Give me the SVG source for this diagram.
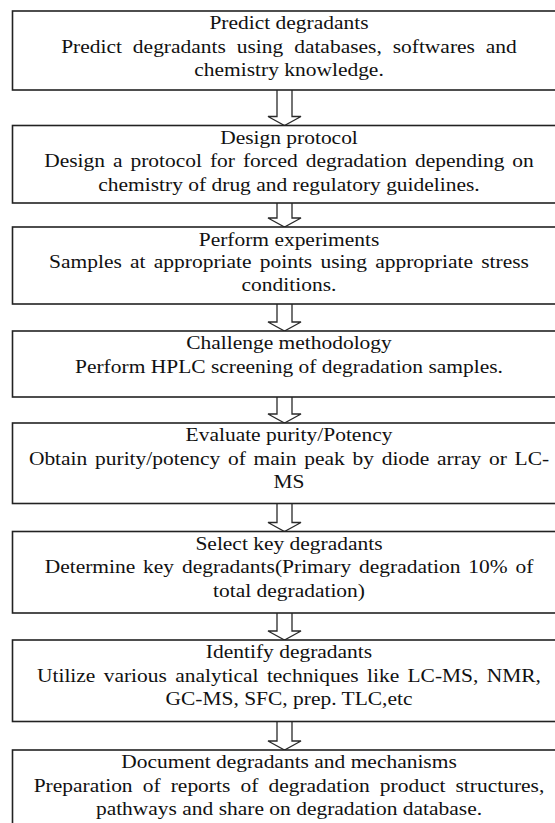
<svg xmlns="http://www.w3.org/2000/svg" width="555" height="823" viewBox="0 0 555 823">
<style>
.box{fill:#fff;stroke:#222;stroke-width:1.6}
.arr{fill:#fff;stroke:#2a2a2a;stroke-width:1.3;stroke-linejoin:miter}
text{font-family:"Liberation Serif","Times New Roman",serif;font-size:19px;fill:#111;text-anchor:middle}
</style>
<rect width="555" height="823" fill="#fff"/>
<g id="connectors">
<path class="arr" d="M277,90 V116.5 H268 L284.5,125.5 L301,116.5 H292 V90"/>
<path class="arr" d="M277,203 V218 H268 L284.5,227 L301,218 H292 V203"/>
<path class="arr" d="M277,304 V322 H268 L284.5,331 L301,322 H292 V304"/>
<path class="arr" d="M277,397 V414 H268 L284.5,423 L301,414 H292 V397"/>
<path class="arr" d="M277,503.5 V522.5 H268 L284.5,531.5 L301,522.5 H292 V503.5"/>
<path class="arr" d="M277,613 V631 H268 L284.5,640 L301,631 H292 V613"/>
<path class="arr" d="M277,721.5 V741 H268 L284.5,750 L301,741 H292 V721.5"/>
</g>
<g id="n1">
<rect class="box" x="12.5" y="11" width="556" height="79"/>
<g transform="scale(1.13 1)">
<text x="255.75" y="29.5">Predict degradants</text>
<text x="255.75" y="53" word-spacing="4.9">Predict degradants using databases, softwares and</text>
<text x="255.75" y="76.5">chemistry knowledge.</text>
</g>
</g>
<g id="n2">
<rect class="box" x="12.5" y="125.5" width="556" height="77.5"/>
<g transform="scale(1.13 1)">
<text x="255.75" y="144">Design protocol</text>
<text x="255.75" y="167.5" word-spacing="2.3">Design a protocol for forced degradation depending on</text>
<text x="255.75" y="191">chemistry of drug and regulatory guidelines.</text>
</g>
</g>
<g id="n3">
<rect class="box" x="12.5" y="227" width="556" height="77"/>
<g transform="scale(1.13 1)">
<text x="255.75" y="246">Perform experiments</text>
<text x="255.75" y="268.5" word-spacing="2.55">Samples at appropriate points using appropriate stress</text>
<text x="255.75" y="291">conditions.</text>
</g>
</g>
<g id="n4">
<rect class="box" x="12.5" y="331" width="556" height="66"/>
<g transform="scale(1.13 1)">
<text x="255.75" y="349">Challenge methodology</text>
<text x="255.75" y="373">Perform HPLC screening of degradation samples.</text>
</g>
</g>
<g id="n5">
<rect class="box" x="12.5" y="423" width="556" height="80.5"/>
<g transform="scale(1.13 1)">
<text x="255.75" y="441.5">Evaluate purity/Potency</text>
<text x="255.75" y="465" word-spacing="2.1">Obtain purity/potency of main peak by diode array or LC-</text>
<text x="255.75" y="488.5">MS</text>
</g>
</g>
<g id="n6">
<rect class="box" x="12.5" y="531.5" width="556" height="81.5"/>
<g transform="scale(1.13 1)">
<text x="255.75" y="550">Select key degradants</text>
<text x="255.75" y="573.5" word-spacing="2.2">Determine key degradants(Primary degradation 10% of</text>
<text x="255.75" y="597">total degradation)</text>
</g>
</g>
<g id="n7">
<rect class="box" x="12.5" y="640" width="556" height="81.5"/>
<g transform="scale(1.13 1)">
<text x="255.75" y="658.5">Identify degradants</text>
<text x="255.75" y="682" word-spacing="2.6">Utilize various analytical techniques like LC-MS, NMR,</text>
<text x="255.75" y="705.5">GC-MS, SFC, prep. TLC,etc</text>
</g>
</g>
<g id="n8">
<rect class="box" x="12.5" y="750" width="556" height="100"/>
<g transform="scale(1.13 1)">
<text x="255.75" y="768.5">Document degradants and mechanisms</text>
<text x="255.75" y="792" word-spacing="4.2">Preparation of reports of degradation product structures,</text>
<text x="255.75" y="815.5">pathways and share on degradation database.</text>
</g>
</g>
</svg>
